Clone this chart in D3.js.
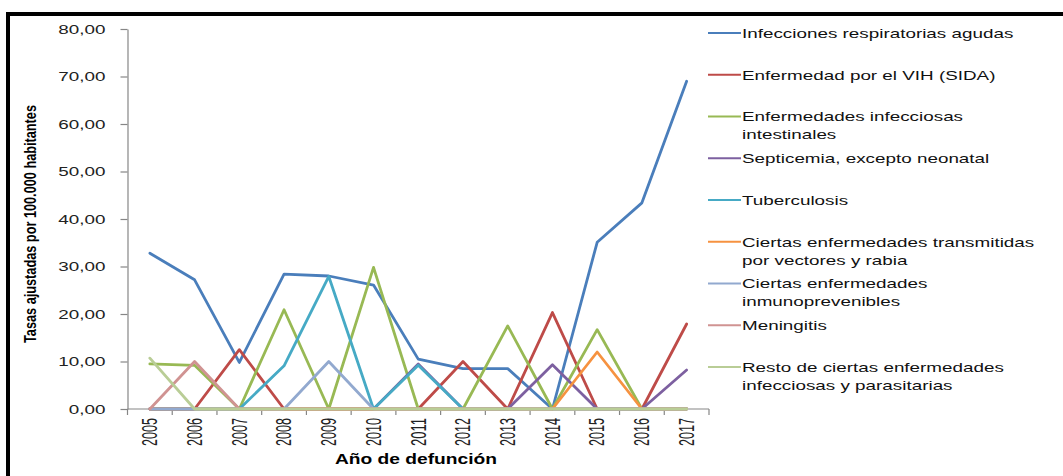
<!DOCTYPE html>
<html>
<head>
<meta charset="utf-8">
<script src="https://cdn.jsdelivr.net/npm/d3@7"></script>
<style>
html, body { margin: 0; padding: 0; background: #fff; }
svg { display: block; font-family: "Liberation Sans", Arial, sans-serif; }
</style>
</head>
<body>
<div id="chart"></div>
<script>
(() => {

// CATEGORIES
const years = ["2005","2006","2007","2008","2009","2010","2011","2012","2013","2014","2015","2016","2017"];

// SERIES (tasas ajustadas por 100.000 habitantes)
const respiratorias     = [32.8, 27.2, 9.8, 28.4, 28.0, 26.1, 10.5, 8.5, 8.5, 0, 35.1, 43.4, 69.0];
const vih               = [0, 0, 12.5, 0, 0, 0, 0, 10.0, 0, 20.3, 0, 0, 17.9];
const intestinales      = [9.5, 9.2, 0, 20.9, 0, 29.8, 0, 0, 17.5, 0, 16.7, 0, 0];
const septicemia        = [0, 0, 0, 0, 0, 0, 9.5, 0, 0, 9.3, 0, 0, 8.2];
const tuberculosis      = [0, 0, 0, 9.1, 27.9, 0, 9.2, 0, 0, 0, 0, 0, 0];
const vectores          = [0, 0, 0, 0, 0, 0, 0, 0, 0, 0, 12.0, 0, 0];
const inmunoprevenibles = [0, 0, 0, 0, 10.0, 0, 0, 0, 0, 0, 0, 0, 0];
const meningitis        = [0, 10.0, 0, 0, 0, 0, 0, 0, 0, 0, 0, 0, 0];
const resto             = [10.7, 0, 0, 0, 0, 0, 0, 0, 0, 0, 0, 0, 0];

// LEGEND LABELS (one entry per line of text)
const legendLabels = [
  ["Infecciones respiratorias agudas"],
  ["Enfermedad por el VIH (SIDA)"],
  ["Enfermedades infecciosas", "intestinales"],
  ["Septicemia, excepto neonatal"],
  ["Tuberculosis"],
  ["Ciertas enfermedades transmitidas", "por vectores y rabia"],
  ["Ciertas enfermedades", "inmunoprevenibles"],
  ["Meningitis"],
  ["Resto de ciertas enfermedades", "infecciosas y parasitarias"]
];

// Y TICKS
const yTicks = [0, 10, 20, 30, 40, 50, 60, 70, 80];

const seriesValues = [respiratorias, vih, intestinales, septicemia, tuberculosis,
  vectores, inmunoprevenibles, meningitis, resto];
const colors = ["#4A7EBB", "#BE4B48", "#98B954", "#7D60A0", "#46AAC5",
  "#F69240", "#92A9CF", "#D09392", "#B9CD96"];

const width = 1063, height = 476;
const SX = 1.45; // picture is stretched sideways, so is the text

const svg = d3.select("#chart")
  .append("svg")
  .attr("width", width)
  .attr("height", height);

// frame (cut off at right and bottom)
svg.append("rect")
  .attr("x", 8).attr("y", 14)
  .attr("width", 1200).attr("height", 600)
  .attr("fill", "none")
  .attr("stroke", "#000")
  .attr("stroke-width", 4);

// scales
const x = d3.scaleBand()
  .domain(years)
  .range([127.5, 709])
  .padding(0);

const y = d3.scaleLinear()
  .domain([0, 80])
  .range([409, 29]);

const axisColor = "#868686";

// y axis
const yAxis = svg.append("g")
  .attr("transform", `translate(${x.range()[0]},0)`)
  .call(d3.axisLeft(y)
    .tickValues(yTicks)
    .tickSize(7)
    .tickSizeOuter(0)
    .tickFormat(d => d3.format(".2f")(d).replace(".", ",")));

yAxis.select(".domain").attr("stroke", axisColor).attr("stroke-width", 1.2);
yAxis.selectAll(".tick line").attr("stroke", axisColor).attr("stroke-width", 1.2);
yAxis.selectAll(".tick text")
  .attr("x", -22 / SX)
  .attr("transform", `scale(${SX},1)`)
  .attr("font-size", 13)
  .attr("fill", "#222")
  .attr("font-family", "'Liberation Sans', Arial, sans-serif");

// x axis line + ticks at category boundaries
svg.append("line")
  .attr("x1", x.range()[0]).attr("x2", x.range()[1])
  .attr("y1", y(0)).attr("y2", y(0))
  .attr("stroke", axisColor).attr("stroke-width", 1.2);

svg.selectAll(".xtick")
  .data(years.concat(["end"]))
  .enter()
  .append("line")
  .attr("class", "xtick")
  .attr("x1", d => d === "end" ? x.range()[1] : x(d))
  .attr("x2", d => d === "end" ? x.range()[1] : x(d))
  .attr("y1", y(0))
  .attr("y2", y(0) + 6)
  .attr("stroke", axisColor).attr("stroke-width", 1.2);

// year labels
const xAxis = svg.append("g")
  .attr("transform", `translate(0,${y(0)})`)
  .call(d3.axisBottom(x).tickSize(0));

xAxis.select(".domain").remove();
xAxis.selectAll(".tick text")
  .attr("x", 0).attr("y", 0).attr("dy", null)
  .attr("text-anchor", "end")
  .attr("dominant-baseline", "central")
  .attr("font-size", 13)
  .attr("textLength", 28)
  .attr("lengthAdjust", "spacingAndGlyphs")
  .attr("fill", "#222")
  .attr("font-family", "'Liberation Sans', Arial, sans-serif")
  .attr("transform", "translate(0,9) rotate(-90) scale(1,1.7)");

// lines
const line = d3.line()
  .x((d, i) => x(years[i]) + x.bandwidth() / 2)
  .y(d => y(d));

svg.selectAll(".serie")
  .data(seriesValues)
  .enter()
  .append("path")
  .attr("class", "serie")
  .attr("d", line)
  .attr("fill", "none")
  .attr("stroke", (d, i) => colors[i])
  .attr("stroke-width", 2.8)
  .attr("stroke-linejoin", "round")
  .attr("stroke-linecap", "round");

// axis titles
svg.append("text")
  .attr("transform", "translate(30,224) rotate(-90) scale(1,1.25)")
  .attr("text-anchor", "middle")
  .attr("dominant-baseline", "central")
  .attr("font-size", 13)
  .attr("font-weight", "bold")
  .attr("textLength", 238)
  .attr("lengthAdjust", "spacingAndGlyphs")
  .text("Tasas ajustadas por 100.000 habitantes");

svg.append("text")
  .attr("x", 416).attr("y", 464)
  .attr("text-anchor", "middle")
  .attr("font-size", 15)
  .attr("font-weight", "bold")
  .attr("textLength", 162)
  .attr("lengthAdjust", "spacingAndGlyphs")
  .text("Año de defunción");

// legend
const legend = svg.selectAll(".legend")
  .data(legendLabels)
  .enter()
  .append("g")
  .attr("class", "legend")
  .attr("transform", (d, i) => `translate(708,${33 + i * 41.75})`);

legend.append("line")
  .attr("x1", 0).attr("x2", 33)
  .attr("y1", 0).attr("y2", 0)
  .attr("stroke", (d, i) => colors[i])
  .attr("stroke-width", 2);

legend.append("g")
  .attr("transform", `translate(34,0) scale(${SX},1)`)
  .selectAll("text")
  .data(d => d)
  .enter()
  .append("text")
  .attr("x", 0)
  .attr("y", (d, j) => j * 18)
  .attr("dominant-baseline", "central")
  .attr("font-size", 13)
  .attr("fill", "#111")
  .text(d => d);

})();
</script>
</body>
</html>
